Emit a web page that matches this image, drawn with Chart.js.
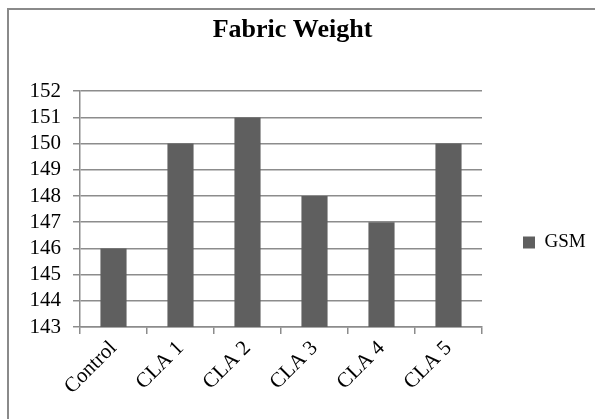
<!DOCTYPE html>
<html>
<head>
<meta charset="utf-8">
<script src="https://cdn.jsdelivr.net/npm/chart.js@4/dist/chart.umd.min.js"></script>
<style>
  html, body { margin: 0; padding: 0; background: #ffffff; }
  #wrap { width: 595px; height: 419px; position: relative; }
</style>
</head>
<body>
<div id="wrap"><canvas id="chart" width="595" height="419"></canvas></div>
<script>
// Fabric weight per sample (GSM)
const categories = ['Control', 'CLA 1', 'CLA 2', 'CLA 3', 'CLA 4', 'CLA 5'];
const gsmValues = [146, 150, 151, 148, 147, 150];
const yTicks = [143, 144, 145, 146, 147, 148, 149, 150, 151, 152];
const seriesName = 'GSM';
const chartTitle = 'Fabric Weight';

const SERIF = "'Liberation Serif', 'Times New Roman', serif";
const GRID = '#8c8c8c';
const BAR = '#5f5f5f';

// Light grey frame around the whole chart
const framePlugin = {
  id: 'frame',
  beforeDraw(chart) {
    const ctx = chart.ctx;
    ctx.save();
    ctx.fillStyle = '#ffffff';
    ctx.fillRect(0, 0, chart.width, chart.height);
    ctx.strokeStyle = '#8a8a8a';
    ctx.lineWidth = 2;
    ctx.strokeRect(8, 9, chart.width + 20, chart.height + 20);
    ctx.restore();
  }
};

// Nudge the legend down to the vertical middle of the frame and give its text room
const legendShift = {
  id: 'legendShift',
  afterLayout(chart) {
    const lg = chart.legend;
    if (lg) { lg.top += 33; lg.bottom += 33; lg.right += 10; lg.width += 10; }
  }
};

new Chart(document.getElementById('chart'), {
  type: 'bar',
  data: {
    labels: categories,
    datasets: [{
      label: seriesName,
      data: gsmValues,
      backgroundColor: BAR,
      borderWidth: 0,
      barPercentage: 0.39,
      categoryPercentage: 1.0
    }]
  },
  plugins: [framePlugin, legendShift],
  options: {
    responsive: false,
    animation: false,
    devicePixelRatio: 1,
    layout: { padding: { left: 0, right: 10, top: 0, bottom: 0 } },
    plugins: {
      title: {
        display: true,
        text: chartTitle,
        color: '#000000',
        font: { family: SERIF, size: 26, weight: 'bold' },
        padding: { top: 15, bottom: 45 }
      },
      legend: {
        display: true,
        position: 'right',
        align: 'center',
        maxWidth: 103,
        labels: {
          boxWidth: 12,
          boxHeight: 12,
          padding: 41,
          color: '#000000',
          font: { family: SERIF, size: 19 }
        }
      },
      tooltip: { enabled: false }
    },
    scales: {
      x: {
        afterFit(scale) { scale.height = 92; },
        grid: {
          display: true,
          drawOnChartArea: false,
          drawTicks: true,
          tickLength: 7,
          color: GRID,
          lineWidth: 1.5
        },
        border: { display: true, color: GRID, width: 1.5 },
        ticks: {
          minRotation: 45,
          maxRotation: 45,
          padding: 2,
          color: '#000000',
          font: { family: SERIF, size: 21 }
        }
      },
      y: {
        min: 143,
        max: 152,
        afterFit(scale) { scale.width = 80; },
        afterBuildTicks(scale) { scale.ticks = yTicks.map(v => ({ value: v })); },
        grid: {
          color: GRID,
          lineWidth: 1.5,
          tickLength: 7
        },
        border: { display: true, color: GRID, width: 1.5 },
        ticks: {
          autoSkip: false,
          padding: 12,
          color: '#000000',
          font: { family: SERIF, size: 21 }
        }
      }
    }
  }
});
</script>
</body>
</html>
